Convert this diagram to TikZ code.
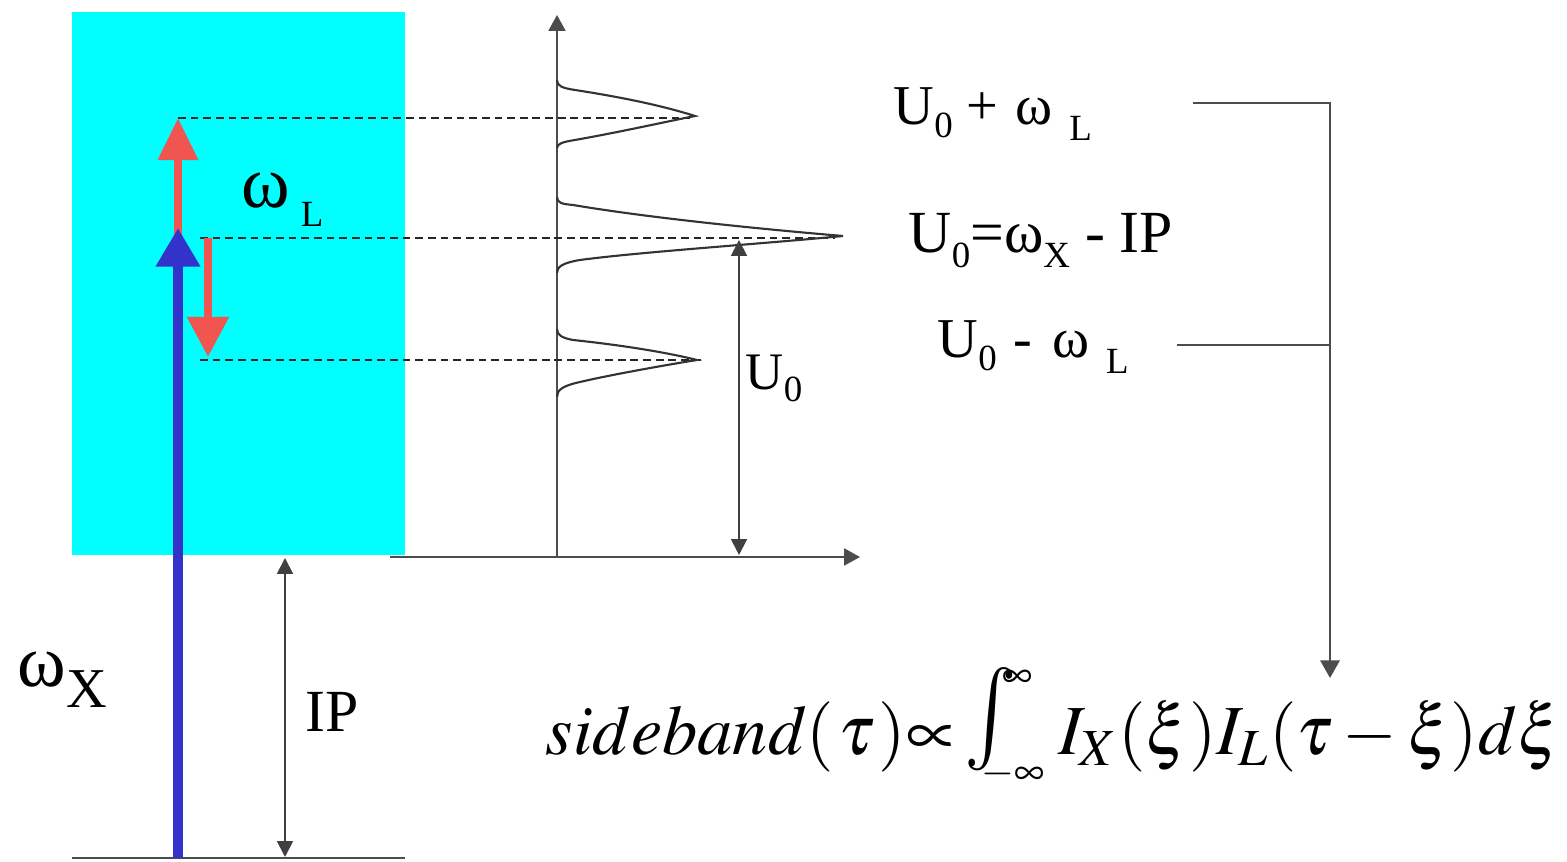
\documentclass[tikz,border=0pt]{standalone}
\usepackage{mathptmx}
\usepackage{graphicx}
\usepackage[no-math]{fontspec}
\setmainfont{Liberation Serif}
\usetikzlibrary{arrows.meta}

\definecolor{boxcyan}{RGB}{0,255,255}
\definecolor{photonblue}{RGB}{51,51,204}
\definecolor{laserred}{RGB}{240,85,80}

% lowered subscript as in the slide
\newcommand{\lowsub}[2][4pt]{\raisebox{-#1}{\fontsize{10.5}{10.5}\selectfont #2}}
% integral sign of the slide size
\newcommand{\slideint}{\mathop{\raisebox{2.8pt}{\scalebox{1.25}[1.47]{$\int$}}}\nolimits}

\begin{document}
\begin{tikzpicture}[x=0.01cm,y=-0.01cm,
    axisline/.style={black!70,line width=0.6pt},
    peakline/.style={black!80,line width=0.6pt},
    dashlevel/.style={black!85,line width=0.5pt,dash pattern=on 2.2pt off 1.4pt},
    dimarrow/.style={black!75,line width=0.55pt,{Triangle[length=4.5pt,width=4.5pt]}-{Triangle[length=4.5pt,width=4.5pt]}},
    lab/.style={inner sep=0pt,anchor=base west,font=\fontsize{16}{16}\selectfont}]

    \useasboundingbox (0,0) rectangle (1567,862);

    % Continuum box and ground level
    \fill[boxcyan] (72,12) rectangle (405,555);
    \coordinate (g1) at (72,858);
    \coordinate (g2) at (405,858);
    \draw[axisline] (g1) -- (g2);

    % Axes of the spectrum
    \coordinate (origin) at (557,557);
    \coordinate (ytip) at (557,15);
    \coordinate (xleft) at (390,557);
    \coordinate (xtip) at (860,557);
    \draw[axisline,-{Triangle[length=4.5pt,width=4.8pt]}] (origin) -- (ytip);
    \draw[axisline,-{Triangle[length=4.5pt,width=4.8pt]}] (xleft) -- (xtip);

    % Levels
    \coordinate (up) at (178,118);
    \coordinate (mid) at (200,238);
    \coordinate (down) at (200,360);
    \draw[dashlevel] (up) -- (690,118);
    \draw[dashlevel] (mid) -- (835,238);
    \draw[dashlevel] (down) -- (703,360);

    % Peaks
    \draw[peakline] (557,80) .. controls (557,86) and (562,88) .. (575,90)
        .. controls (620,97) and (660,105) .. (695,116)
        .. controls (660,123) and (620,132) .. (575,140)
        .. controls (562,142) and (557,144) .. (557,148);
    \draw[peakline] (557,197) .. controls (557,203) and (562,204) .. (573,205)
        .. controls (650,218) and (760,229) .. (843,236)
        .. controls (760,244) and (640,252) .. (580,260)
        .. controls (562,263) and (557,267) .. (557,273);
    \draw[peakline] (557,329) .. controls (557,335) and (562,338) .. (573,340)
        .. controls (620,345) and (665,352) .. (697,360)
        .. controls (660,366) and (610,375) .. (580,382)
        .. controls (562,386) and (557,390) .. (557,397);

    % Photon arrows
    \coordinate (xbase) at (178,858);
    \coordinate (xtop) at (178,228);
    \draw[laserred,line width=2.3pt,-{Triangle[length=12pt,width=11pt]}] (178,240) -- (up);
    \draw[laserred,line width=2.3pt,-{Triangle[length=11.4pt,width=11.4pt]}] (208,238) -- (208,357);
    \draw[photonblue,line width=2.8pt,-{Triangle[length=11pt,width=12pt]}] (xbase) -- (xtop);

    % Energy markers
    \coordinate (u0top) at (739,240);
    \coordinate (u0bot) at (739,555);
    \draw[dimarrow] (u0top) -- (u0bot);
    \coordinate (iptop) at (285,558);
    \coordinate (ipbot) at (285,857);
    \draw[dimarrow] (iptop) -- (ipbot);

    % Labels
    \node[lab] (wL) at (241,208) {{\fontsize{21}{21}\selectfont ω}\hspace{3pt}\lowsub[5.4pt]{L}};
    \node[lab] (wX) at (17,687) {{\fontsize{21}{21}\selectfont ω}\raisebox{-5.7pt}{\fontsize{16}{16}\selectfont X}};
    \node[lab,font=\fontsize{17}{17}\selectfont] (IP) at (305,732) {IP};
    \node[lab,font=\fontsize{15}{15}\selectfont] (U0) at (745,390) {U\lowsub[3.4pt]{0}};
    \node[lab] (plus) at (893,125) {U\lowsub[3.7pt]{0}\hspace{0.25em}+\hspace{0.3em}ω\hspace{0.3em}\lowsub[4.3pt]{L}};
    \node[lab,font=\fontsize{17}{17}\selectfont] (centre) at (908,253) {U\lowsub{0}=ω\lowsub{X} - IP};
    \node[lab] (minus) at (937,358) {U\lowsub[3.7pt]{0}\hspace{0.3em}-\hspace{0.35em}ω\hspace{0.3em}\lowsub[4.3pt]{L}};

    % Sideband collection
    \coordinate (plusend) at (1193,103);
    \coordinate (pluscorner) at (1330,103);
    \coordinate (minusend) at (1177,345);
    \coordinate (minuscorner) at (1330,345);
    \coordinate (sbtip) at (1330,678);
    \draw[axisline,-{Triangle[length=5pt,width=5.5pt]}] (plusend) -- (pluscorner) -- (sbtip);
    \draw[axisline] (minusend) -- (minuscorner);

    \node[lab,font=\fontsize{20}{24}\selectfont] (sideband) at (545,755)
        {$sideband(\mkern1mu\tau\mkern1mu){\propto}\slideint_{\mkern-12mu\raisebox{-3pt}{$\scriptscriptstyle-\infty$}}^{\mkern-5mu\scriptscriptstyle\infty}\mkern1mu I_X(\xi)I_L(\tau-\xi)d\xi$};

\end{tikzpicture}
\end{document}
